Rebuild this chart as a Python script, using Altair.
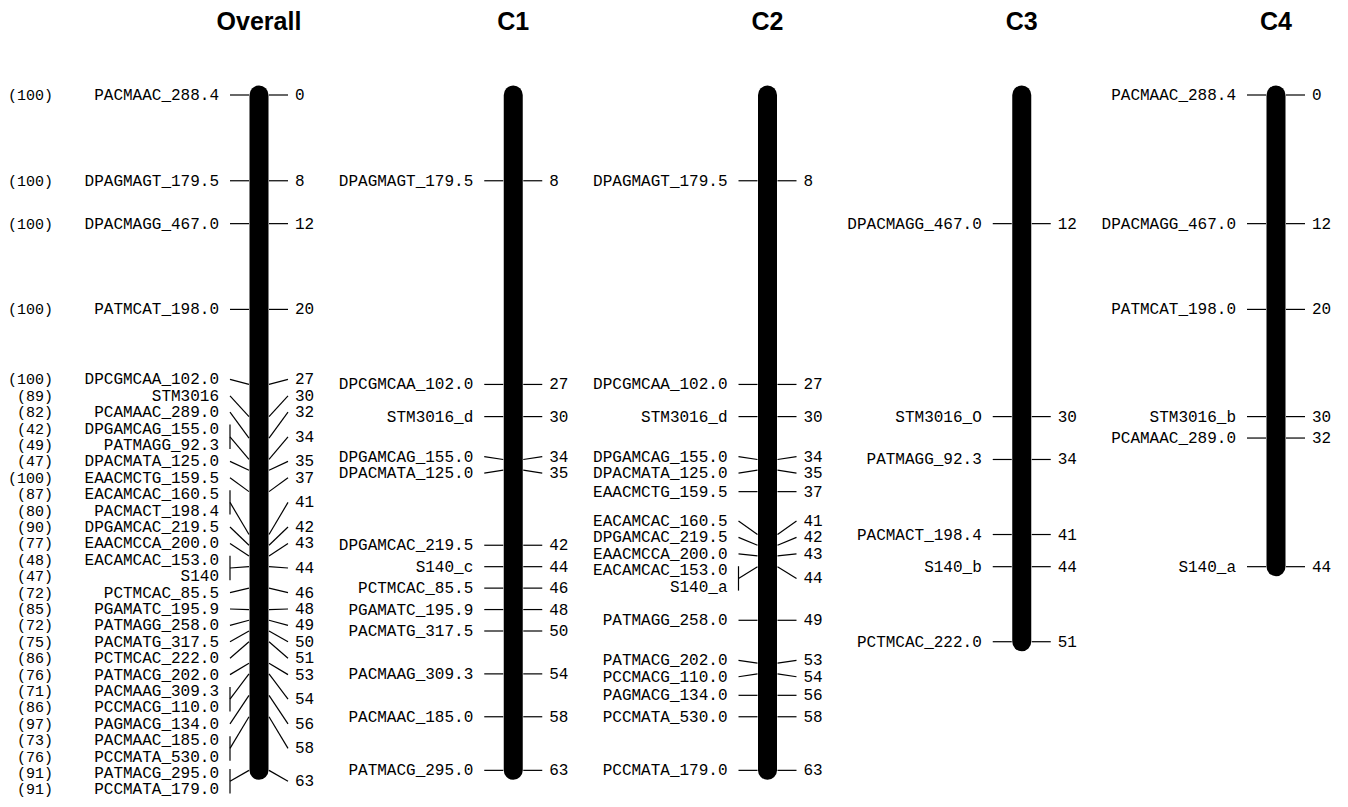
import altair as alt
import pandas as pd
import numpy as np

# ---------------- data ----------------
panels = ["Overall", "C1", "C2", "C3", "C4"]

overall_names = ["PACMAAC_288.4", "DPAGMAGT_179.5", "DPACMAGG_467.0", "PATMCAT_198.0",
                 "DPCGMCAA_102.0", "STM3016", "PCAMAAC_289.0", "DPGAMCAG_155.0",
                 "PATMAGG_92.3", "DPACMATA_125.0", "EAACMCTG_159.5", "EACAMCAC_160.5",
                 "PACMACT_198.4", "DPGAMCAC_219.5", "EAACMCCA_200.0", "EACAMCAC_153.0",
                 "S140", "PCTMCAC_85.5", "PGAMATC_195.9", "PATMAGG_258.0", "PACMATG_317.5",
                 "PCTMCAC_222.0", "PATMACG_202.0", "PACMAAG_309.3", "PCCMACG_110.0",
                 "PAGMACG_134.0", "PACMAAC_185.0", "PCCMATA_530.0", "PATMACG_295.0",
                 "PCCMATA_179.0"]
overall_cm = [0, 8, 12, 20, 27, 30, 32, 34, 34, 35, 37, 41, 41, 42, 43, 44, 44, 46, 48, 49,
              50, 51, 53, 54, 54, 56, 58, 58, 63, 63]
overall_support = [100, 100, 100, 100, 100, 89, 82, 42, 49, 47, 100, 87, 80, 90, 77, 48, 47,
                   72, 85, 72, 75, 86, 76, 71, 86, 97, 73, 76, 91, 91]

c1_names = ["DPAGMAGT_179.5", "DPCGMCAA_102.0", "STM3016_d", "DPGAMCAG_155.0",
            "DPACMATA_125.0", "DPGAMCAC_219.5", "S140_c", "PCTMCAC_85.5", "PGAMATC_195.9",
            "PACMATG_317.5", "PACMAAG_309.3", "PACMAAC_185.0", "PATMACG_295.0"]
c1_cm = [8, 27, 30, 34, 35, 42, 44, 46, 48, 50, 54, 58, 63]

c2_names = ["DPAGMAGT_179.5", "DPCGMCAA_102.0", "STM3016_d", "DPGAMCAG_155.0",
            "DPACMATA_125.0", "EAACMCTG_159.5", "EACAMCAC_160.5", "DPGAMCAC_219.5",
            "EAACMCCA_200.0", "EACAMCAC_153.0", "S140_a", "PATMAGG_258.0", "PATMACG_202.0",
            "PCCMACG_110.0", "PAGMACG_134.0", "PCCMATA_530.0", "PCCMATA_179.0"]
c2_cm = [8, 27, 30, 34, 35, 37, 41, 42, 43, 44, 44, 49, 53, 54, 56, 58, 63]

c3_names = ["DPACMAGG_467.0", "STM3016_O", "PATMAGG_92.3", "PACMACT_198.4", "S140_b",
            "PCTMCAC_222.0"]
c3_cm = [12, 30, 34, 41, 44, 51]

c4_names = ["PACMAAC_288.4", "DPACMAGG_467.0", "PATMCAT_198.0", "STM3016_b",
            "PCAMAAC_289.0", "S140_a"]
c4_cm = [0, 12, 20, 30, 32, 44]

# ---------------- layout constants ----------------
PX_PER_CM = 10.72
CM0_Y = 87          # plot-area pixel of cM 0
W, H = 1330, 793
LABEL_GAP = 1.53    # minimum label spacing, in cM
MONO = "Liberation Mono"


def spread(pos, gap):
    """Push overlapping labels apart; each cluster centred on its ideal positions."""
    clusters = []
    for p in pos:
        clusters.append([[p], p])
        while len(clusters) > 1:
            a, b = clusters[-2], clusters[-1]
            a_end = a[1] + gap * (len(a[0]) - 1)
            if a_end + gap > b[1] + 1e-9:
                items = a[0] + b[0]
                top = float(np.mean([q - gap * k for k, q in enumerate(items)]))
                clusters[-2:] = [[items, top]]
            else:
                break
    out = []
    for items, top in clusters:
        out += [top + gap * k for k in range(len(items))]
    return out


series = {"Overall": (overall_names, overall_cm), "C1": (c1_names, c1_cm),
          "C2": (c2_names, c2_cm), "C3": (c3_names, c3_cm), "C4": (c4_names, c4_cm)}

rows = []
for panel in panels:
    names, cms = series[panel]
    ly = spread(list(cms), LABEL_GAP)
    for i, (n, c, y) in enumerate(zip(names, cms, ly)):
        rows.append({"panel": panel, "name": n, "cm": c, "ly": y,
                     "support": f"({overall_support[i]})" if panel == "Overall" else ""})
labels = pd.DataFrame(rows)

groups = (labels.groupby(["panel", "cm"], sort=False)
          .agg(ly_mean=("ly", "mean"), ly_min=("ly", "min"), ly_max=("ly", "max"),
               n=("ly", "size")).reset_index())
groups["num"] = groups["cm"].astype(int).astype(str)
brackets = groups[groups["n"] > 1]

bars = labels.groupby("panel", sort=False).agg(end=("cm", "max")).reset_index()
bars["start"] = 0
titles = pd.DataFrame({"panel": panels})
support = labels[labels["panel"] == "Overall"]

# ---------------- scales ----------------
dom_lo = -CM0_Y / PX_PER_CM
dom_hi = dom_lo + H / PX_PER_CM
xs = alt.Scale(type="point", domain=panels, range=[251, 1268], padding=0)
ys = alt.Scale(domain=[dom_lo, dom_hi], reverse=True, nice=False, zero=False)
X = alt.X("panel:N", scale=xs, axis=None)


def Y(f):
    return alt.Y(f"{f}:Q", scale=ys, axis=None)


LW = 1.2
left_conn = alt.Chart(groups).mark_rule(color="black", strokeWidth=LW, xOffset=-29,
                                        x2Offset=-10).encode(
    x=X, x2=alt.X2("panel"), y=Y("ly_mean"), y2=alt.Y2("cm"))
right_conn = alt.Chart(groups).mark_rule(color="black", strokeWidth=LW, xOffset=10,
                                         x2Offset=29).encode(
    x=X, x2=alt.X2("panel"), y=Y("cm"), y2=alt.Y2("ly_mean"))
bracket = alt.Chart(brackets).mark_rule(color="black", strokeWidth=LW, xOffset=-29,
                                        yOffset=-4, y2Offset=4).encode(
    x=X, y=Y("ly_min"), y2=alt.Y2("ly_max"))
chrom = alt.Chart(bars).mark_rule(color="black", strokeWidth=19, strokeCap="round").encode(
    x=X, y=Y("start"), y2=alt.Y2("end"))
name_txt = alt.Chart(labels).mark_text(font=MONO, fontSize=16, align="right",
                                       baseline="middle", dx=-40, color="black").encode(
    x=X, y=Y("ly"), text="name:N")
num_txt = alt.Chart(groups).mark_text(font=MONO, fontSize=16, align="left",
                                      baseline="middle", dx=36, color="black").encode(
    x=X, y=Y("ly_mean"), text="num:N")
sup_txt = alt.Chart(support).mark_text(font=MONO, fontSize=15, align="right",
                                       baseline="middle", dx=-206, color="black").encode(
    x=X, y=Y("ly"), text="support:N")
title_txt = alt.Chart(titles).mark_text(font="Liberation Sans", fontSize=25,
                                        fontWeight="bold", baseline="middle",
                                        color="black").encode(
    x=X, y=alt.value(14), text="panel:N")

chart = (alt.layer(left_conn, right_conn, bracket, chrom, name_txt, num_txt, sup_txt,
                   title_txt)
         .properties(width=W, height=H, autosize="none", padding=0, background="white")
         .configure_view(stroke=None))

chart.save("out.html", embed_options={"renderer": "svg", "actions": False})
